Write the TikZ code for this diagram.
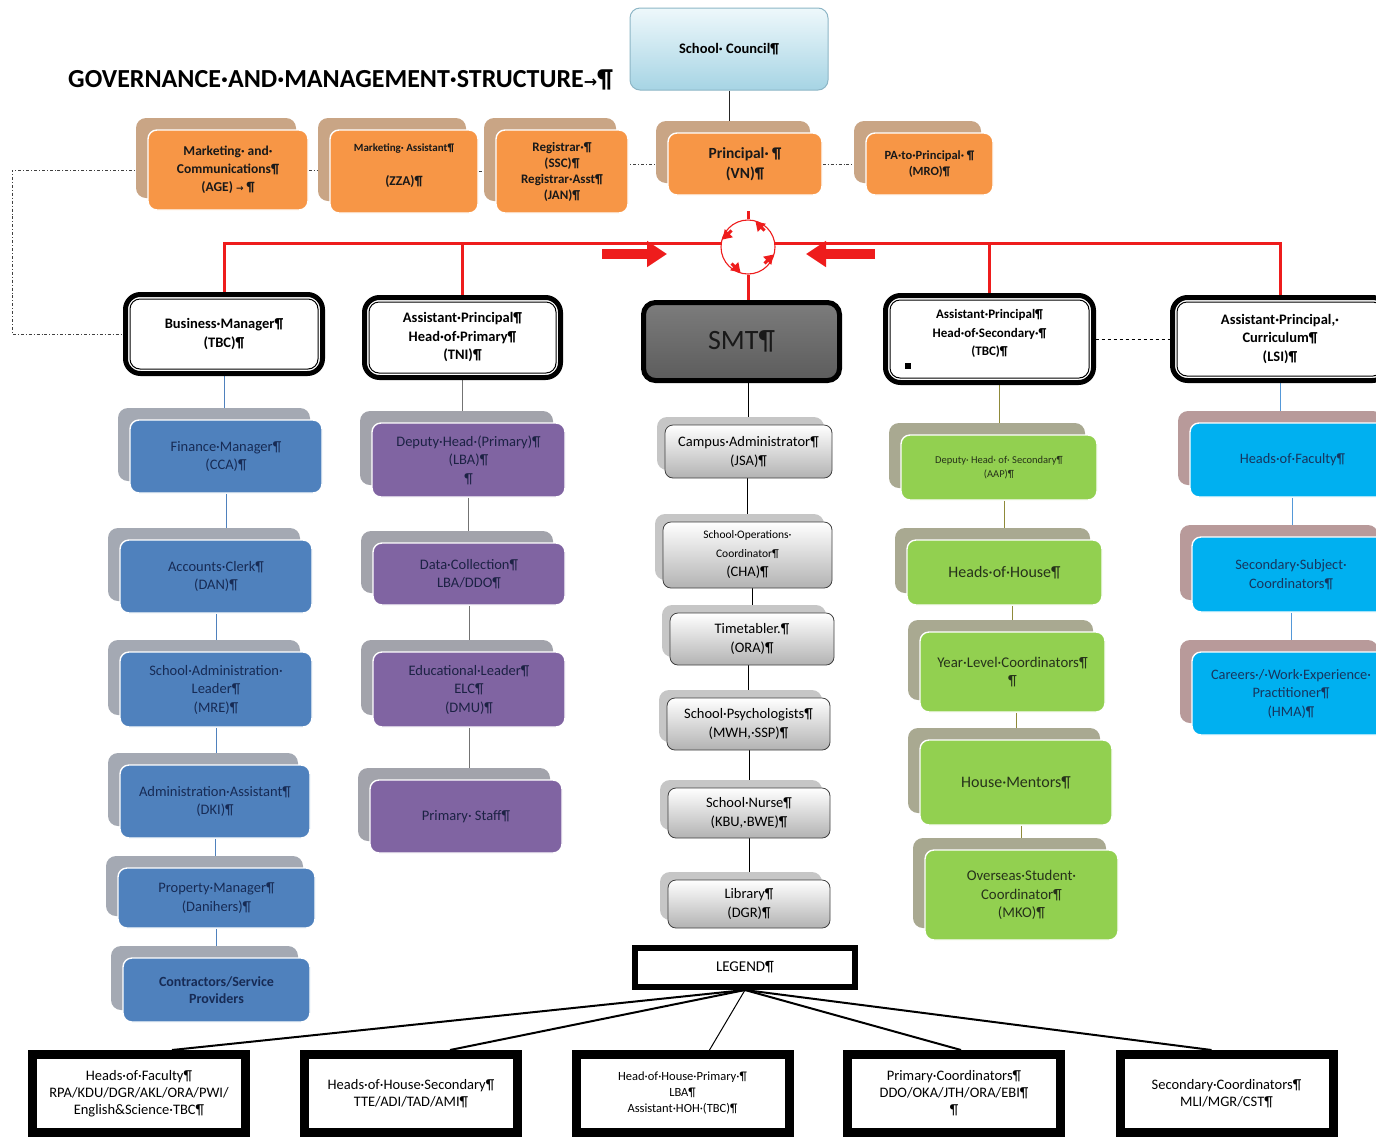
\documentclass[tikz,border=0pt]{standalone}
\usepackage{fontspec}
\setmainfont{Carlito}
\newfontfamily\djv{DejaVu Sans}
\usetikzlibrary{arrows.meta,calc,backgrounds}
\definecolor{orF}{HTML}{F79646}
\definecolor{orB}{HTML}{C9A585}
\definecolor{blF}{HTML}{4F81BD}
\definecolor{blB}{HTML}{A4A9B3}
\definecolor{puF}{HTML}{8064A2}
\definecolor{puB}{HTML}{A2A3AB}
\definecolor{grF}{HTML}{92D050}
\definecolor{grB}{HTML}{A9A991}
\definecolor{cyF}{HTML}{00B0F0}
\definecolor{cyB}{HTML}{B89A9A}
\definecolor{ceB}{HTML}{C6C6C6}
\definecolor{navyT}{HTML}{172B55}
\definecolor{puT}{HTML}{1C2244}
\definecolor{grT}{HTML}{26321A}
\definecolor{cyT}{HTML}{17355E}
\definecolor{scT}{HTML}{EEF8FB}
\definecolor{scBot}{HTML}{A6D4E4}
\definecolor{scD}{HTML}{8DB6C6}
\definecolor{smtT}{HTML}{7C7C7C}
\definecolor{smtB}{HTML}{5C5C5C}
\definecolor{redL}{HTML}{EE1C1C}
\newcommand\fs[2]{\fontsize{#1}{#2}\selectfont}
\tikzset{
  frontbox/.style={rounded corners=9pt, draw=white, line width=1.4pt, align=center, inner sep=1pt},
  orbox/.style={frontbox, fill=orF, text=black!90, font=\fs{13.5}{18}\bfseries},
  blbox/.style={frontbox, fill=blF, text=navyT, font=\fs{14.5}{18.5}},
  pubox/.style={frontbox, fill=puF, text=puT, font=\fs{14.5}{18.5}},
  grbox/.style={frontbox, fill=grF, text=grT, font=\fs{14.8}{18.5}},
  cybox/.style={frontbox, fill=cyF, text=cyT, font=\fs{14.4}{18.5}},
  cebox/.style={rounded corners=8pt, draw=black!75, line width=0.8pt, top color=white, bottom color=black!30, align=center, inner sep=1pt, font=\fs{14.5}{19}},
  bigbox/.style={draw=black, line width=1pt, fill=white, rounded corners=10pt, align=center, inner sep=1pt, font=\fs{14.5}{18.5}\bfseries},
  legbox/.style={draw=black, line width=9pt, fill=white, align=center, inner sep=1pt, font=\fs{14.5}{17}},
  conn/.style={line width=1pt},
  redl/.style={redL, line width=3pt},
  ddl/.style={black!75, line width=0.9pt, dash dot},
  legl/.style={black, line width=2pt},
  circarrow/.style={redL, line width=3pt, -{Triangle[length=9pt,width=11pt]}},
  bigarrow/.style={redL, line width=10pt, -{Triangle[length=20pt,width=25pt]}}
}
% name, front style, back colour, shift, x1, y1, x2, y2, text
\newcommand\bx[9]{%
  \fill[#3, rounded corners=10pt] ({#5-#4},{#6-#4}) rectangle ({#7-#4},{#8-#4});
  \node[#2, minimum width={#7-#5}, minimum height={#8-#6}] (#1) at ({(#5+#7)/2},{(#6+#8)/2}) {#9};}
% name, x1, y1, x2, y2 (outer), text
\newcommand\bigbx[6]{%
  \filldraw[fill=white, draw=black, line width=5pt, rounded corners=15pt] ({#2+2.5},{#3+2.5}) rectangle ({#4-2.5},{#5-2.5});
  \node[bigbox, minimum width={#4-#2-14}, minimum height={#5-#3-14}] (#1) at ({(#2+#4)/2},{(#3+#5)/2}) {#6};}
\begin{document}
\begin{tikzpicture}[x=1pt,y=-1pt]
\path[use as bounding box] (0,0) rectangle (1376,1136);

% title
\node[anchor=west, font=\fs{26}{30}\bfseries, inner sep=0] (title) at (68,80) {GOVERNANCE·AND·MANAGEMENT·STRUCTURE{\djv\fs{16}{18}→}¶};

% school council
\node[rounded corners=10pt, draw=scD, line width=1pt, top color=scT, bottom color=scBot, minimum width=198, minimum height=82, font=\fs{14.5}{17}\bfseries] (sc) at (729,49) {School· Council¶};

% orange row
\bx{mk}{orbox}{orB}{12}{148}{130}{308}{210}{Marketing· and·\\Communications¶\\(AGE) {\djv\fs{9}{10}→} ¶}
\bx{ma}{orbox}{orB}{12}{330}{130}{478}{213}{{\fs{11}{12}\bfseries Marketing· Assistant¶}\\[16pt](ZZA)¶\\[-4pt]\mbox{}}
\bx{rg}{orbox,font=\fs{13}{16}\bfseries}{orB}{12}{496}{130}{628}{213}{Registrar·¶\\(SSC)¶\\Registrar·Asst¶\\(JAN)¶}
\bx{pr}{orbox,font=\fs{15.5}{20}\bfseries}{orB}{12}{668}{133}{822}{195}{Principal· ¶\\(VN)¶}
\bx{pa}{orbox,font=\fs{12.5}{16}\bfseries}{orB}{12}{866}{133}{993}{195}{PA·to·Principal· ¶\\(MRO)¶}

% second row
\bigbx{bm}{123}{292}{325}{376}{Business·Manager¶\\(TBC)¶}
\bigbx{ap}{362}{295}{563}{380}{Assistant·Principal¶\\Head·of·Primary¶\\(TNI)¶}
\node[draw=black, line width=5pt, rounded corners=12pt, top color=smtT, bottom color=smtB, minimum width=196, minimum height=78, text=black!90, font=\fs{28}{30}] (smt) at (741.5,341.5) {SMT¶};
\bigbx{as}{883}{293}{1096}{385}{\fs{13}{17}\bfseries Assistant·Principal¶\\\fs{13}{17}\bfseries Head·of·Secondary·¶\\\fs{13}{17}\bfseries(TBC)¶\\[-6pt]\mbox{}}
\fill[black] (905,363) rectangle (911,369);
\bigbx{ac}{1170}{295}{1390}{383}{Assistant·Principal,·\\Curriculum¶\\(LSI)¶}

% circle and red arrows
\node[circle, draw=redL, line width=1.1pt, minimum size=54, inner sep=0] (cir) at (748,247) {};
\coordinate (redtop) at (748,211);
\draw[circarrow] ([xshift=-3pt,yshift=-3pt]cir.45) -- ([xshift=-12pt,yshift=6pt]cir.45);
\draw[circarrow] ([xshift=3pt,yshift=-3pt]cir.135) -- ([xshift=-6pt,yshift=-12pt]cir.135);
\draw[circarrow] ([xshift=3pt,yshift=3pt]cir.225) -- ([xshift=12pt,yshift=-6pt]cir.225);
\draw[circarrow] ([xshift=-3pt,yshift=3pt]cir.315) -- ([xshift=6pt,yshift=12pt]cir.315);
\coordinate (la1) at (602,254);
\coordinate (la2) at (667,254);
\coordinate (ra1) at (875,254);
\coordinate (ra2) at (806,254);
\draw[bigarrow] (la1) -- (la2);
\draw[bigarrow] (ra1) -- (ra2);

% blue column
\bx{fin}{blbox}{blB}{12}{130}{420}{322}{493}{Finance·Manager¶\\(CCA)¶}
\bx{acc}{blbox}{blB}{12}{120}{540}{312}{613}{Accounts·Clerk¶\\(DAN)¶}
\bx{sal}{blbox}{blB}{12}{120}{652}{312}{727}{School·Administration·\\Leader¶\\(MRE)¶}
\bx{aa}{blbox}{blB}{12}{120}{765}{310}{838}{Administration·Assistant¶\\(DKI)¶}
\bx{pm}{blbox}{blB}{12}{118}{868}{315}{928}{Property·Manager¶\\(Danihers)¶}
\bx{con}{blbox,font=\fs{14}{17}\bfseries}{blB}{12}{123}{958}{310}{1022}{Contractors/Service\\Providers}

% purple column
\bx{dhp}{pubox}{puB}{12}{372}{423}{565}{497}{Deputy·Head·(Primary)¶\\(LBA)¶\\¶}
\bx{dc}{pubox}{puB}{12}{373}{543}{565}{605}{Data·Collection¶\\LBA/DDO¶}
\bx{el}{pubox}{puB}{12}{373}{652}{565}{727}{Educational·Leader¶\\ELC¶\\(DMU)¶}
\bx{ps}{pubox}{puB}{12}{370}{780}{562}{853}{Primary· Staff¶}

% centre column
\bx{ca}{cebox}{ceB}{8}{665}{425}{832}{478}{Campus·Administrator¶\\(JSA)¶}
\bx{soc}{cebox}{ceB}{8}{663}{522}{832}{588}{{\fs{11.5}{14}School·Operations·}\\{\fs{11.5}{16}Coordinator¶}\\(CHA)¶}
\bx{tt}{cebox}{ceB}{8}{670}{613}{834}{665}{Timetabler.¶\\(ORA)¶}
\bx{psy}{cebox}{ceB}{8}{667}{698}{830}{750}{School·Psychologists¶\\(MWH,·SSP)¶}
\bx{sn}{cebox}{ceB}{8}{668}{788}{830}{838}{School·Nurse¶\\(KBU,·BWE)¶}
\bx{lib}{cebox}{ceB}{8}{668}{880}{830}{928}{Library¶\\(DGR)¶}

% green column
\bx{dhs}{grbox,font=\fs{10.5}{14}}{grB}{12}{901}{435}{1097}{500}{Deputy· Head· of· Secondary¶\\(AAP)¶}
\bx{hoh}{grbox,font=\fs{16}{19}}{grB}{12}{907}{540}{1102}{605}{Heads·of·House¶}
\bx{ylc}{grbox}{grB}{12}{920}{632}{1105}{712}{Year·Level·Coordinators¶\\¶}
\bx{hm}{grbox,font=\fs{16}{19}}{grB}{12}{920}{740}{1112}{825}{House·Mentors¶}
\bx{osc}{grbox}{grB}{12}{925}{850}{1118}{940}{Overseas·Student·\\Coordinator¶\\(MKO)¶}

% cyan column
\bx{hof}{cybox}{cyB}{12}{1190}{423}{1395}{497}{Heads·of·Faculty¶}
\bx{ssc}{cybox}{cyB}{12}{1192}{537}{1390}{612}{Secondary·Subject·\\Coordinators¶}
\bx{car}{cybox}{cyB}{12}{1192}{652}{1390}{735}{Careers·/·Work·Experience·\\Practitioner¶\\(HMA)¶}

% legend
\node[draw=black, line width=6pt, fill=white, minimum width=220, minimum height=39, font=\fs{15}{17}] (lg) at (745,967.5) {LEGEND¶};
\node[legbox, minimum width=213, minimum height=78] (l1) at (139,1093.5) {Heads·of·Faculty¶\\RPA/KDU/DGR/AKL/ORA/PWI/\\English\&Science·TBC¶};
\node[legbox, minimum width=213, minimum height=78] (l2) at (411,1093.5) {Heads·of·House·Secondary¶\\TTE/ADI/TAD/AMI¶};
\node[legbox, minimum width=213, minimum height=78, font=\fs{12.5}{16}] (l3) at (682.5,1093.5) {Head·of·House·Primary·¶\\LBA¶\\Assistant·HOH·(TBC)¶};
\node[legbox, minimum width=213, minimum height=78] (l4) at (954,1093.5) {Primary·Coordinators¶\\DDO/OKA/JTH/ORA/EBI¶\\¶};
\node[legbox, minimum width=213, minimum height=78] (l5) at (1226.5,1093.5) {Secondary·Coordinators¶\\MLI/MGR/CST¶};

\coordinate (dlx) at (12,0);

\begin{scope}[on background layer]
  \fill[white] (0,0) rectangle (1376,1136);
  % council to principal
  \draw[conn, black!85] (sc.south) -- (sc.south |- pr.north);
  % dash-dot links
  \draw[ddl] (mk.west) -- (mk.west -| dlx) |- (bm.west);
  \draw[ddl] (mk.east) -- (mk.east -| ma.west);
  \draw[ddl] (ma.east) -- (ma.east -| rg.west);
  \draw[ddl] (pr.west) -- (pr.west -| rg.east);
  \draw[ddl] (pr.east) -- (pr.east -| pa.west);
  \draw[black, line width=1pt, dashed] (as.east) -- (as.east -| ac.west);
  % red structure
  \draw[redl] (bm.north) |- (cir.172);
  \draw[redl] (ap.north) -- (ap.north |- cir.172);
  \draw[redl] (ac.north) |- (cir.8);
  \draw[redl] (as.north) -- (as.north |- cir.8);
  \draw[redl] (cir.north) -- (redtop);
  \draw[redl] (cir.south) -- (cir.south |- smt.north);
  % columns
  \foreach \a/\b in {bm/fin, fin/acc, acc/sal, sal/aa, aa/pm, pm/con}
    \draw[conn, blF] (\a.south) -- (\a.south |- \b.north);
  \foreach \a/\b in {ap/dhp, dhp/dc, dc/el, el/ps}
    \draw[conn, black!55] (\a.south) -- (\a.south |- \b.north);
  \foreach \a/\b in {smt/ca, ca/soc, soc/tt, tt/psy, psy/sn, sn/lib}
    \draw[conn, black] (\b.north |- \a.south) -- (\b.north);
  \foreach \a/\b in {as/dhs, dhs/hoh, hoh/ylc, ylc/hm, hm/osc}
    \draw[conn, olive!60!gray] (\b.north |- \a.south) -- (\b.north);
  \foreach \a/\b in {ac/hof, hof/ssc, ssc/car}
    \draw[conn, cyan!60!blue!70] (\a.south) -- (\a.south |- \b.north);
  % legend fan
  \draw[legl] (lg.south) -- ([xshift=33pt]l1.north);
  \draw[legl] (lg.south) -- ([xshift=39pt]l2.north);
  \draw[black, line width=1pt] (lg.south) -- ([xshift=27pt]l3.north);
  \draw[legl] (lg.south) -- ([xshift=7pt]l4.north);
  \draw[legl] (lg.south) -- ([xshift=-15pt]l5.north);
\end{scope}
\end{tikzpicture}
\end{document}
